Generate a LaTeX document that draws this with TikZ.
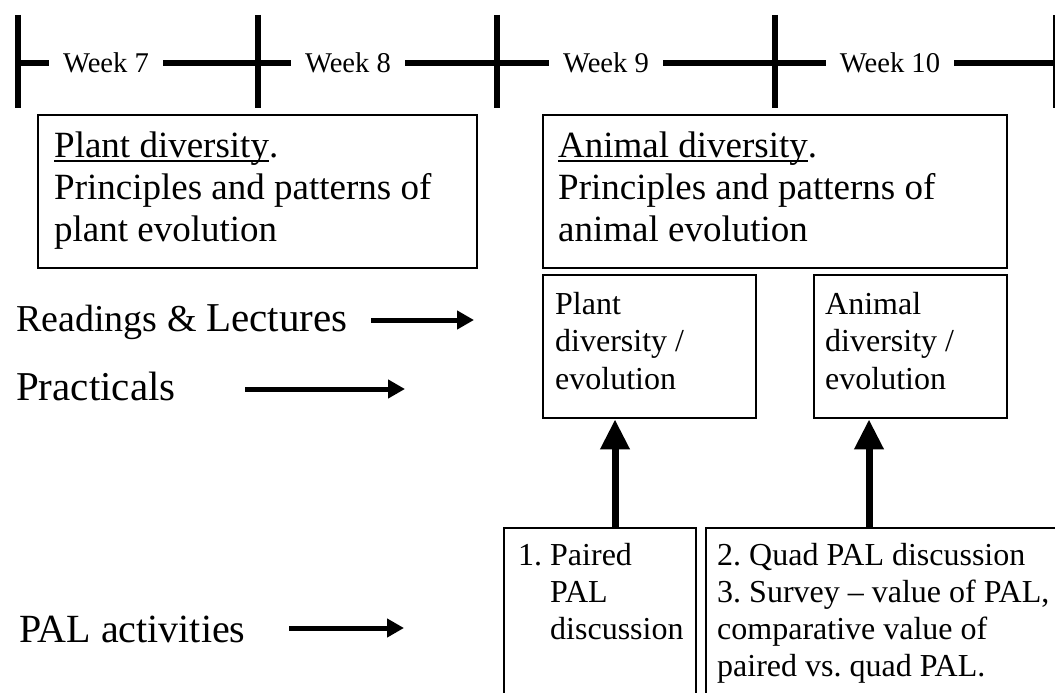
\documentclass[tikz,border=0pt]{standalone}
\usepackage{fontspec}
\setmainfont{Liberation Serif}
\usetikzlibrary{arrows.meta}
\frenchspacing
\newcommand{\fs}[2]{\fontsize{#1pt}{#2pt}\selectfont}
\newcommand{\bxc}[4]{\parbox[c][#2pt][t]{#1pt}{\raggedright\hyphenpenalty=10000\rule{0pt}{#3pt}#4}}
\newcommand{\ulx}[1]{\setbox0\hbox{#1}\rlap{\rule[-4.5pt]{\wd0}{1.8pt}}\box0}
\tikzset{
  boxnode/.style={draw=black, line width=2.4pt, inner ysep=0pt, anchor=north west},
  timeline/.style={line width=6pt, black},
  tickmark/.style={line width=6.5pt, black},
  weeklabel/.style={fill=white, inner xsep=14pt, inner ysep=2pt, anchor=base, font=\fs{28.6}{30}},
  sidelabel/.style={anchor=base west, inner sep=0pt},
  harrow/.style={line width=5pt, -{Triangle[length=17pt,width=18pt]}},
  varrow/.style={line width=7pt, -{Triangle[length=30pt,width=28pt]}}
}
\begin{document}
\begin{tikzpicture}[x=1pt, y=-1pt]
\useasboundingbox (0,0) rectangle (1055,693);
\clip (0,0) rectangle (1055,693);
% timeline
\draw[timeline] (18,63) -- (1060,63);
\foreach \tx in {18,258,497,775,1056} \draw[tickmark] (\tx,15) -- (\tx,108);
\node[weeklabel] (w7) at (106,72.5) {Week 7};
\node[weeklabel] (w8) at (348,72.5) {Week 8};
\node[weeklabel] (w9) at (606,72.5) {Week 9};
\node[weeklabel] (w10) at (890,72.5) {Week 10};
% top boxes
\node[boxnode, inner xsep=16pt] (b1) at (37,114)
  {\bxc{407}{153}{42}{\fs{37}{42}\ulx{Plant diversity}.\\Principles and patterns of\\plant evolution}};
\node[boxnode, inner xsep=15pt] (b2) at (542,114)
  {\bxc{434}{153}{42}{\fs{37}{42}\ulx{Animal diversity}.\\Principles and patterns of\\animal evolution}};
\node[boxnode, inner xsep=12pt] (b3) at (542,274)
  {\bxc{189}{143}{39}{\fs{32}{37.5}Plant\\diversity /\\evolution}};
\node[boxnode, inner xsep=11pt] (b4) at (813,274)
  {\bxc{171}{143}{39}{\fs{32}{37.5}Animal\\diversity /\\evolution}};
% bottom boxes
\node[boxnode, inner xsep=14pt] (b5) at (503,527)
  {\bxc{164}{200}{37}{\fs{32}{37}\mbox{\makebox[1em][l]{1.}Paired}\\\mbox{\hspace*{1em}PAL}\\\mbox{\hspace*{1em}discussion}}};
\node[boxnode, inner xsep=11pt] (b6) at (705,527)
  {\bxc{378}{200}{37}{\fs{32}{37}\mbox{2. Quad PAL discussion}\\\mbox{3. Survey -- value of PAL,}\\\mbox{comparative value of}\\\mbox{paired vs. quad PAL.}}};
% side labels
\node[sidelabel] (rl) at (16,331) {\fs{38}{40}Readings \& {\fs{41}{41}Lectures}};
\node[sidelabel] (pl) at (16,400) {\fs{41}{41}Practicals};
\node[sidelabel] (al) at (19,642) {\fs{40}{40}PAL activities};
% horizontal arrows
\coordinate (rs) at (371,320); \coordinate (re) at (474,320);
\coordinate (ps) at (245,389); \coordinate (pe) at (405,389);
\coordinate (as) at (289,628); \coordinate (ae) at (404,628);
\draw[harrow] (rs) -- (re);
\draw[harrow] (ps) -- (pe);
\draw[harrow] (as) -- (ae);
% vertical arrows
\coordinate (v1) at (615,0);
\coordinate (v2) at (869,0);
\draw[varrow] (b5.north -| v1) -- (b3.south -| v1);
\draw[varrow] (b6.north -| v2) -- (b4.south -| v2);
\end{tikzpicture}
\end{document}
